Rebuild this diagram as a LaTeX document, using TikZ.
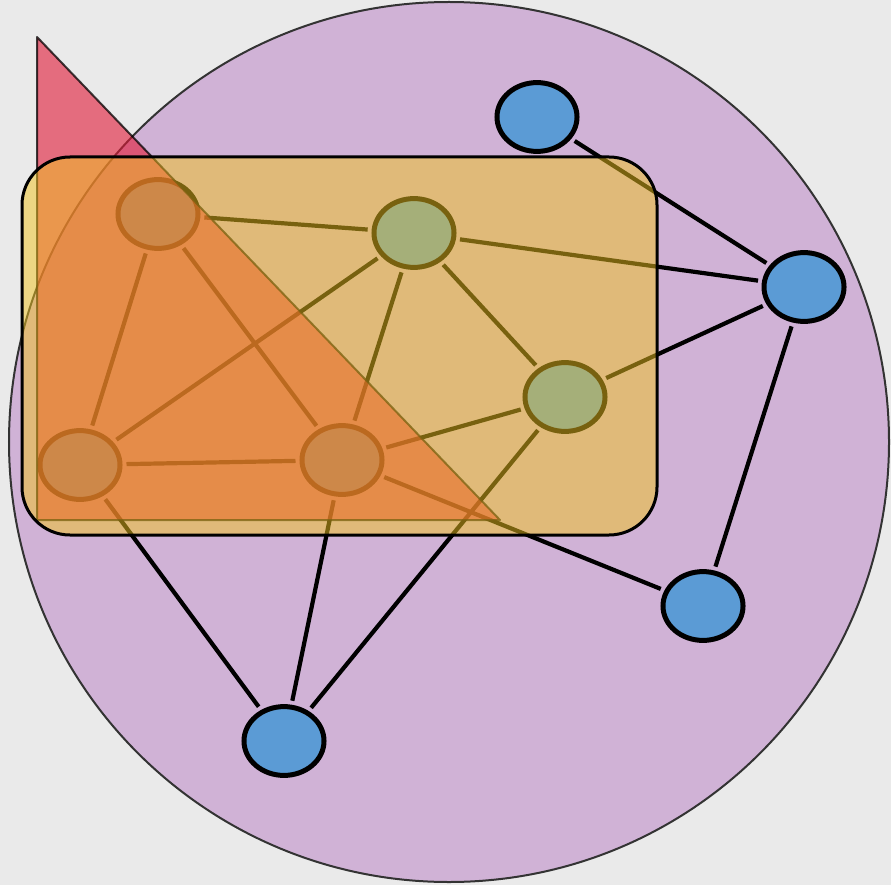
\documentclass[tikz,border=0pt]{standalone}
\usetikzlibrary{shapes.geometric}
\definecolor{bgc}{RGB}{234,234,234}
\definecolor{circc}{RGB}{208,178,214}
\definecolor{nodeblue}{RGB}{91,155,213}
\definecolor{trired}{RGB}{225,25,55}
\definecolor{rectorange}{RGB}{240,195,30}
\begin{document}
\begin{tikzpicture}[x=0.025cm,y=-0.025cm,
  gnode/.style={ellipse,draw=black,line width=0.125cm,fill=nodeblue,minimum width=2.0cm,minimum height=1.72cm,inner sep=0pt},
  edge/.style={line width=0.105cm,black,shorten <=0.1cm,shorten >=0.1cm},
  bigcircle/.style={fill=circc,draw=black!80,line width=0.05cm},
  tri/.style={fill=trired,fill opacity=0.6,draw=black,draw opacity=0.75,line width=0.05cm,line join=round},
  roundrect/.style={fill=rectorange,fill opacity=0.5,draw=black,line width=0.075cm,rounded corners=1.2cm}]
\fill[bgc] (0,0) rectangle (891,885);
\useasboundingbox (0,0) rectangle (891,885);
\path[bigcircle] (449,442) circle [radius=440];
% nodes
\node[gnode] (A) at (537,117) {};
\node[gnode] (B) at (804,287) {};
\node[gnode] (C) at (158,214) {};
\node[gnode] (D) at (414,233) {};
\node[gnode] (E) at (565,397) {};
\node[gnode] (F) at (80,465) {};
\node[gnode] (G) at (342,460) {};
\node[gnode] (H) at (703,606) {};
\node[gnode] (I) at (284,741) {};
% edges
\draw[edge] (A) -- (B);
\draw[edge] (C) -- (D);
\draw[edge] (C) -- (F);
\draw[edge] (C) -- (G);
\draw[edge] (D) -- (B);
\draw[edge] (D) -- (E);
\draw[edge] (D) -- (F);
\draw[edge] (D) -- (G);
\draw[edge] (E) -- (B);
\draw[edge] (E) -- (G);
\draw[edge] (E) -- (I);
\draw[edge] (F) -- (G);
\draw[edge] (F) -- (I);
\draw[edge] (G) -- (I);
\draw[edge] (G) -- (H);
\draw[edge] (B) -- (H);
% overlays
\path[tri] (37,37) -- (37,520) -- (500,520) -- cycle;
\path[roundrect] (22,157) rectangle (657,535);
\end{tikzpicture}
\end{document}
